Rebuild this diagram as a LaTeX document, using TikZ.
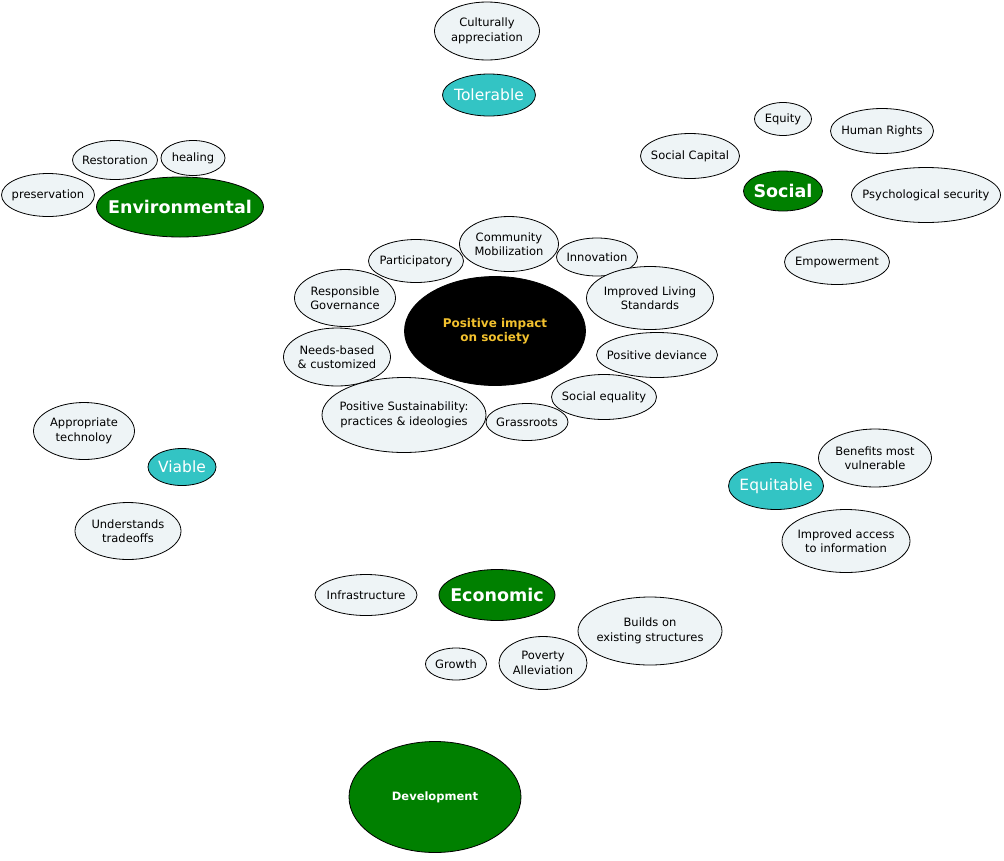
\documentclass[tikz,border=0pt]{standalone}
\usepackage{fontspec}
\setmainfont{DejaVu Sans}
\usetikzlibrary{shapes.geometric}
\definecolor{bubfill}{HTML}{EEF4F6}
\definecolor{tealc}{HTML}{33C4C4}
\definecolor{greenc}{HTML}{008000}
\definecolor{goldc}{HTML}{F2C12E}
\tikzset{
  bub/.style={ellipse, draw=black, line width=0.8pt, fill=bubfill, inner sep=0pt,
    label={[font=\fontsize{11.5}{14.5}\selectfont, align=center, text=black]center:#1}},
  teal/.style={ellipse, draw=black, line width=0.8pt, fill=tealc, inner sep=0pt,
    label={[font=\fontsize{15.5}{18}\selectfont, text=white]center:#1}},
  grn/.style={ellipse, draw=black, line width=0.8pt, fill=greenc, inner sep=0pt,
    label={[font=\fontsize{17.5}{20}\selectfont\bfseries, text=white]center:#1}},
  grnsmall/.style={ellipse, draw=black, line width=0.8pt, fill=greenc, inner sep=0pt,
    label={[font=\fontsize{11.5}{14}\selectfont\bfseries, text=white]center:#1}},
  blk/.style={ellipse, draw=black, line width=0.8pt, fill=black, inner sep=0pt,
    label={[font=\fontsize{12}{14.5}\selectfont\bfseries, text=goldc, align=center]center:#1}},
  sz/.style 2 args={minimum width=#1pt, minimum height=#2pt}
}
\begin{document}
\begin{tikzpicture}[x=1pt,y=-1pt]
\useasboundingbox (0,0) rectangle (1004,860);
% top
\node[bub={Culturally\\appreciation}, sz={105}{58}] (cult) at (487,31) {};
\node[teal={Tolerable}, sz={93}{42}] (tol) at (489,95) {};
% social
\node[bub={Equity}, sz={57}{33}] (equity) at (783,119) {};
\node[bub={Human Rights}, sz={103}{45}] (hr) at (882,131) {};
\node[bub={Social Capital}, sz={99}{45}] (sc) at (690,156) {};
\node[grn={Social}, sz={79}{40}] (social) at (783,191) {};
\node[bub={Psychological security}, sz={149}{55}] (psy) at (926,195) {};
\node[bub={Empowerment}, sz={105}{45}] (emp) at (837,262) {};
% environmental
\node[bub={Restoration}, sz={85}{39}] (rest) at (115,160) {};
\node[bub={healing}, sz={64}{35}] (heal) at (193,158) {};
\node[bub={preservation}, sz={93}{43}] (pres) at (48,195) {};
\node[grn={Environmental}, sz={167}{60}] (env) at (180,207) {};
% centre
\node[bub={Community\\Mobilization}, sz={99}{55}] (comm) at (509,244) {};
\node[bub={Participatory}, sz={95}{43}] (part) at (416,261) {};
\node[bub={Innovation}, sz={81}{38}] (innov) at (597,257) {};
\node[bub={Responsible\\Governance}, sz={101}{57}] (resp) at (345,298) {};
\node[blk={Positive impact\\on society}, sz={181}{109}] (pos) at (495,331) {};
\node[bub={Improved Living\\Standards}, sz={127}{63}] (ils) at (650,298) {};
\node[bub={Needs-based\\\& customized}, sz={107}{58}] (needs) at (337,357) {};
\node[bub={Positive deviance}, sz={121}{45}] (pdev) at (657,355) {};
\node[bub={Social equality}, sz={105}{45}] (seq) at (604,397) {};
\node[bub={Positive Sustainability:\\practices \& ideologies}, sz={164}{75}] (psus) at (404,415) {};
\node[bub={Grassroots}, sz={82}{37}] (grass) at (527,422) {};
% viable
\node[bub={Appropriate\\technoloy}, sz={101}{57}] (appr) at (84,431) {};
\node[teal={Viable}, sz={68}{37}] (viable) at (182,467) {};
\node[bub={Understands\\tradeoffs}, sz={106}{57}] (under) at (128,531) {};
% equitable
\node[bub={Benefits most\\vulnerable}, sz={113}{58}] (bene) at (875,458) {};
\node[teal={Equitable}, sz={95}{47}] (equit) at (776,486) {};
\node[bub={Improved access\\to information}, sz={128}{63}] (iai) at (846,541) {};
% economic
\node[bub={Infrastructure}, sz={102}{41}] (infra) at (366,595) {};
\node[grn={Economic}, sz={116}{51}] (econ) at (497,595) {};
\node[bub={Builds on\\existing structures}, sz={144}{68}] (builds) at (650,631) {};
\node[bub={Growth}, sz={61}{32}] (growth) at (456,664) {};
\node[bub={Poverty\\Alleviation}, sz={88}{53}] (pov) at (543,663) {};
% development
\node[grnsmall={Development}, sz={172}{111}] (dev) at (435,797) {};
\end{tikzpicture}
\end{document}
